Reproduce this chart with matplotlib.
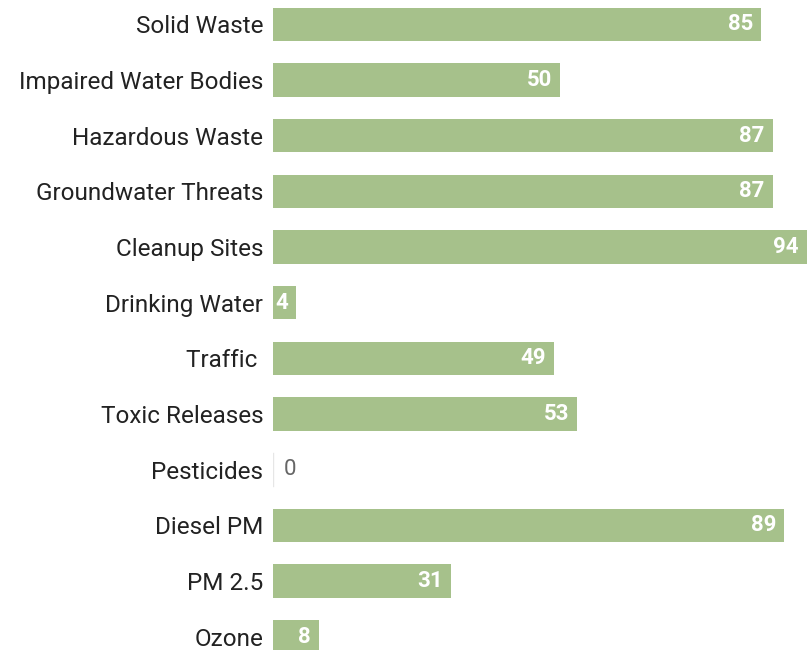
import matplotlib
matplotlib.use("Agg")
import matplotlib.pyplot as plt
from matplotlib import font_manager

# Data
categories = ["Solid Waste", "Impaired Water Bodies", "Hazardous Waste",
              "Groundwater Threats", "Cleanup Sites", "Drinking Water",
              "Traffic ", "Toxic Releases", "Pesticides", "Diesel PM",
              "PM 2.5", "Ozone"]
values = [85, 50, 87, 87, 94, 4, 49, 53, 0, 89, 31, 8]

names = {f.name for f in font_manager.fontManager.ttflist}
family = "Liberation Sans Narrow" if "Liberation Sans Narrow" in names else "Roboto"
plt.rcParams["font.family"] = [family, "DejaVu Sans"]

bar_color = "#a6c18b"
xmax = 93.0

fig = plt.figure(figsize=(8.07, 6.5), dpi=100)
ax = fig.add_axes([273 / 807, 0, 1 - 273 / 807, 1])

ys = list(range(len(categories)))
ax.barh(ys, values, height=0.6, color=bar_color)
ax.set_xlim(0, xmax)
ax.set_ylim(11.24, -0.44)

for y, v in zip(ys, values):
    if v == 0:
        ax.plot([0, 0], [y - 0.3, y + 0.3], color="#e6e6e6", lw=1)
        ax.annotate(str(v), (0, y), xytext=(7.5, 0), textcoords="offset points",
                    ha="left", va="center", fontsize=16, color="#666666")
    else:
        ax.annotate(str(v), (min(v, xmax), y), xytext=(-5.8, 0),
                    textcoords="offset points", ha="right", va="center",
                    fontsize=16, color="white", fontweight="bold")

ax.set_yticks(ys)
ax.set_yticklabels(categories, fontsize=17.5, color="#222222")
ax.tick_params(axis="y", length=0, pad=7)
ax.set_xticks([])
for s in ax.spines.values():
    s.set_visible(False)

fig.savefig("out.png", dpi=100)
